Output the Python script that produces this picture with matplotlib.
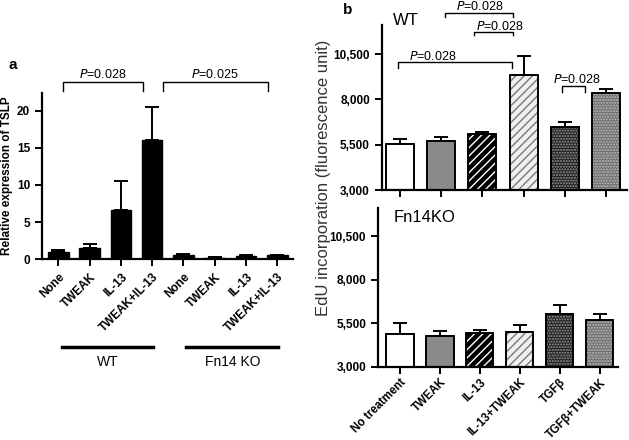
import matplotlib
matplotlib.use('Agg')
import matplotlib.pyplot as plt
from matplotlib.transforms import blended_transform_factory

plt.rcParams['font.family'] = ['Liberation Sans', 'DejaVu Sans']

# panel a data
a_labels = ['None', 'TWEAK', 'IL-13', 'TWEAK+IL-13', 'None', 'TWEAK', 'IL-13', 'TWEAK+IL-13']
a_values = [1.0, 1.5, 6.6, 16.0, 0.6, 0.2, 0.4, 0.5]
a_errors = [0.2, 0.6, 3.9, 4.5, 0.1, 0.05, 0.1, 0.1]
a_groups = ['WT', 'Fn14 KO']

# panel b data
b_labels = ['No treatment', 'TWEAK', 'IL-13', 'IL-13+TWEAK', 'TGF\u03b2', 'TGF\u03b2+TWEAK']
b_wt = [5520, 5700, 6090, 9330, 6490, 8330]
b_wt_err = [280, 200, 90, 1060, 260, 260]
b_ko = [4900, 4790, 4940, 4980, 6000, 5660]
b_ko_err = [600, 260, 190, 430, 550, 340]
b_ticks = [3000, 5500, 8000, 10500]

# bar styles: face, hatch colour, hatch
styles = [
    ('white', 'white', ''),
    ('#8a8a8a', '#8a8a8a', ''),
    ('black', 'white', '////'),
    ('#f0f0f0', '#7a7a7a', '////'),
    ('#1e1e1e', '#9a9a9a', '......'),
    ('#6e6e6e', '#bdbdbd', '......'),
]

fig = plt.figure(figsize=(6.29, 4.40), dpi=100)


def style_axes(ax):
    for s in ['top', 'right']:
        ax.spines[s].set_visible(False)
    for s in ['left', 'bottom']:
        ax.spines[s].set_linewidth(1.6)
    ax.tick_params(width=1.4, length=5)


def bracket(ax, x0, x1, y, drop, text, ty, tx=None, fs=9):
    ax.plot([x0, x0, x1, x1], [y - drop, y, y, y - drop], color='black', lw=1.0, clip_on=False)
    if tx is None:
        tx = (x0 + x1) / 2
    ax.text(tx, ty, r'$\it{P}$=' + text, ha='center', va='bottom', fontsize=fs, clip_on=False)


# ---- panel a
ax_a = fig.add_axes([0.0668, 0.411, 0.399, 0.378])
xa = list(range(len(a_values)))
ax_a.bar(xa, a_values, width=0.66, color='black', edgecolor='black', zorder=2)
ax_a.errorbar(xa, a_values, yerr=[[0] * len(a_errors), a_errors], fmt='none',
              ecolor='black', elinewidth=1.4, capsize=5, capthick=1.4, zorder=1)
ax_a.set_xlim(-0.52, 7.5)
ax_a.set_ylim(0, 22.4)
ax_a.set_yticks([0, 5, 10, 15, 20])
ax_a.set_xticks(xa)
ax_a.set_xticklabels(a_labels, rotation=45, ha='right', rotation_mode='anchor',
                     fontsize=8.5, fontweight='bold')
for t in ax_a.get_yticklabels():
    t.set_fontweight('bold')
    t.set_fontsize(8.5)
style_axes(ax_a)
ax_a.set_ylabel('Relative expression of TSLP', fontsize=8.5, fontweight='bold', labelpad=3)

bracket(ax_a, 0.15, 2.72, 23.8, 1.2, '0.028', 24.0)
bracket(ax_a, 3.35, 6.7, 23.8, 1.2, '0.025', 24.0, tx=5.0)

tr = blended_transform_factory(ax_a.transData, fig.transFigure)
ax_a.plot([0.13, 3.03], [0.2114, 0.2114], color='black', lw=2.5, transform=tr, clip_on=False)
ax_a.plot([4.09, 7.03], [0.2114, 0.2114], color='black', lw=2.5, transform=tr, clip_on=False)
ax_a.text(1.58, 0.177, a_groups[0], transform=tr, ha='center', va='center', fontsize=10)
ax_a.text(5.56, 0.177, a_groups[1], transform=tr, ha='center', va='center', fontsize=10)

fig.text(0.013, 0.852, 'a', fontsize=11, fontweight='bold', va='center')
fig.text(0.545, 0.977, 'b', fontsize=11, fontweight='bold', va='center')


# ---- panel b
def draw_b(ax, values, errors):
    xb = list(range(len(values)))
    for i, v in enumerate(values):
        face, hcol, hatch = styles[i]
        ax.bar(i, v - 3000, bottom=3000, width=0.68, color=face, edgecolor=hcol,
               hatch=hatch, linewidth=0, zorder=2)
        ax.bar(i, v - 3000, bottom=3000, width=0.68, color='none', edgecolor='black',
               linewidth=1.4, zorder=3)
    ax.errorbar(xb, values, yerr=[[0] * len(errors), errors], fmt='none',
                ecolor='black', elinewidth=1.4, capsize=5, capthick=1.4, zorder=1)
    ax.set_ylim(3000, 12100)
    ax.set_yticks(b_ticks)
    ax.set_yticklabels([f'{t:,}' for t in b_ticks], fontsize=8.5, fontweight='bold')
    ax.set_xticks(xb)
    style_axes(ax)


ax_b1 = fig.add_axes([0.607, 0.568, 0.390, 0.375])
draw_b(ax_b1, b_wt, b_wt_err)
ax_b1.set_xlim(-0.44, 5.51)
ax_b1.set_xticklabels([])
ax_b1.text(-0.18, 12750, 'WT', fontsize=12, va='top', clip_on=False)
bracket(ax_b1, -0.05, 2.72, 10060, 330, '0.028', 9990, tx=0.8)
bracket(ax_b1, 1.09, 2.74, 12760, 220, '0.028', 12790, tx=1.94)
bracket(ax_b1, 1.80, 2.74, 11700, 150, '0.028', 11640, tx=2.43)
bracket(ax_b1, 3.93, 4.49, 8740, 320, '0.028', 8760, tx=4.3)

ax_b2 = fig.add_axes([0.601, 0.1666, 0.381, 0.36])
draw_b(ax_b2, b_ko, b_ko_err)
ax_b2.set_xlim(-0.55, 5.45)
ax_b2.set_xticklabels(b_labels, rotation=45, ha='right', rotation_mode='anchor',
                      fontsize=8.3, fontweight='bold')
ax_b2.tick_params(axis='x', pad=2)
ax_b2.text(-0.17, 12000, 'Fn14KO', fontsize=12, va='top', clip_on=False)

fig.text(0.515, 0.595, 'EdU incorporation (fluorescence unit)', rotation=90,
         ha='center', va='center', fontsize=12, color='#333333', zorder=0)

fig.savefig('out.png', dpi=100)
